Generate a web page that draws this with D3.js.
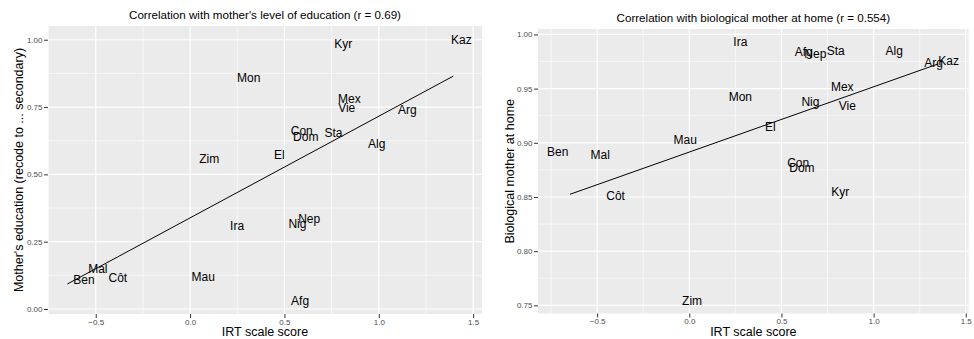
<!DOCTYPE html>
<html>
<head>
<meta charset="utf-8">
<script src="https://cdn.jsdelivr.net/npm/d3@7"></script>
<style>
  body { margin: 0; background: #ffffff; }
  svg text { font-family: "Liberation Sans", Arial, sans-serif; }
</style>
</head>
<body>
<div id="chart"></div>
<script>
// country labels (shortened names, same order in both panels)
var countries = ["Afg", "Alg", "Arg", "Ben", "Con", "Côt", "Dom", "El", "Ira", "Kaz",
                 "Kyr", "Mal", "Mau", "Mex", "Mon", "Nep", "Nig", "Sta", "Vie", "Zim"];

// left panel: IRT score vs mother's education
var eduScore = [0.583, 0.989, 1.152, -0.562, 0.592, -0.383, 0.613, 0.473, 0.249, 1.438,
                0.812, -0.489, 0.070, 0.844, 0.311, 0.631, 0.569, 0.760, 0.830, 0.101];
var eduValue = [0.030, 0.615, 0.739, 0.107, 0.661, 0.116, 0.640, 0.571, 0.309, 0.999,
                0.986, 0.150, 0.120, 0.782, 0.857, 0.334, 0.318, 0.655, 0.749, 0.558];
var eduFitX = [-0.650, 1.395];
var eduFitY = [0.093, 0.865];

// right panel: IRT score vs biological mother at home
var homeScore = [0.621, 1.112, 1.326, -0.714, 0.591, -0.400, 0.611, 0.440, 0.277, 1.407,
                 0.819, -0.483, -0.022, 0.830, 0.277, 0.684, 0.657, 0.794, 0.857, 0.015];
var homeValue = [0.984, 0.985, 0.9737, 0.892, 0.8816, 0.851, 0.8765, 0.9152, 0.993, 0.9758,
                 0.8549, 0.889, 0.903, 0.9516, 0.9429, 0.982, 0.9377, 0.985, 0.9337, 0.7544];
var homeFitX = [-0.647, 1.351];
var homeFitY = [0.8525, 0.9728];

// axes
var xTicks = [-0.5, 0, 0.5, 1, 1.5];
var xTickLabels = ["\u22120.5", "0.0", "0.5", "1.0", "1.5"];
var eduYTicks = [0, 0.25, 0.5, 0.75, 1];
var eduYTickLabels = ["0.00", "0.25", "0.50", "0.75", "1.00"];
var homeYTicks = [0.75, 0.8, 0.85, 0.9, 0.95, 1];
var homeYTickLabels = ["0.75", "0.80", "0.85", "0.90", "0.95", "1.00"];

var eduXDomain = [-0.753, 1.547], eduYDomain = [-0.0186, 1.051];
var homeXDomain = [-0.821, 1.516], homeYDomain = [0.7425, 1.005];

var svg = d3.select("#chart")
    .append("svg")
    .attr("width", 974)
    .attr("height", 339);

function minorOf(ticks, domain) {
  var step = ticks[1] - ticks[0];
  var out = [];
  for (var i = -1; i < ticks.length; i++) {
    var v = ticks[0] + step * (i + 0.5);
    if (v >= domain[0] && v <= domain[1]) out.push(v);
  }
  return out;
}

function drawPanel(cfg) {
  var x = d3.scaleLinear().domain(cfg.xDomain).range([cfg.left, cfg.right]);
  var y = d3.scaleLinear().domain(cfg.yDomain).range([cfg.bottom, cfg.top]);

  var g = svg.append("g");

  g.append("rect")
    .attr("x", cfg.left).attr("y", cfg.top)
    .attr("width", cfg.right - cfg.left)
    .attr("height", cfg.bottom - cfg.top)
    .style("fill", "#ebebeb");

  // minor grid
  g.selectAll(".minx").data(minorOf(cfg.xTicks, cfg.xDomain)).enter()
    .append("line")
    .attr("x1", function(d) { return x(d); }).attr("x2", function(d) { return x(d); })
    .attr("y1", cfg.top).attr("y2", cfg.bottom)
    .style("stroke", "#fff").style("stroke-width", 0.6);
  g.selectAll(".miny").data(minorOf(cfg.yTicks, cfg.yDomain)).enter()
    .append("line")
    .attr("y1", function(d) { return y(d); }).attr("y2", function(d) { return y(d); })
    .attr("x1", cfg.left).attr("x2", cfg.right)
    .style("stroke", "#fff").style("stroke-width", 0.6);

  // major grid
  g.selectAll(".majx").data(cfg.xTicks).enter()
    .append("line")
    .attr("x1", function(d) { return x(d); }).attr("x2", function(d) { return x(d); })
    .attr("y1", cfg.top).attr("y2", cfg.bottom)
    .style("stroke", "#fff").style("stroke-width", 1.2);
  g.selectAll(".majy").data(cfg.yTicks).enter()
    .append("line")
    .attr("y1", function(d) { return y(d); }).attr("y2", function(d) { return y(d); })
    .attr("x1", cfg.left).attr("x2", cfg.right)
    .style("stroke", "#fff").style("stroke-width", 1.2);

  // regression line
  var fit = cfg.fitX.map(function(v, i) { return [v, cfg.fitY[i]]; });
  g.append("path")
    .datum(fit)
    .attr("d", d3.line().x(function(d) { return x(d[0]); }).y(function(d) { return y(d[1]); }))
    .style("fill", "none")
    .style("stroke", "#000")
    .style("stroke-width", 1);

  // country labels
  var pts = countries.map(function(c, i) { return { name: c, sx: cfg.xs[i], sy: cfg.ys[i] }; });
  g.selectAll(".lab").data(pts).enter()
    .append("text")
    .attr("x", function(d) { return x(d.sx); })
    .attr("y", function(d) { return y(d.sy); })
    .attr("dy", "0.35em")
    .style("text-anchor", "middle")
    .style("font-size", "12px")
    .style("fill", "#000")
    .text(function(d) { return d.name; });

  // axes
  var xAxis = d3.axisBottom(x).tickValues(cfg.xTicks)
    .tickFormat(function(d, i) { return cfg.xTickLabels[i]; })
    .tickSize(4).tickPadding(1);
  var ax = g.append("g").attr("transform", "translate(0," + cfg.bottom + ")").call(xAxis);
  var yAxis = d3.axisLeft(y).tickValues(cfg.yTicks)
    .tickFormat(function(d, i) { return cfg.yTickLabels[i]; })
    .tickSize(4).tickPadding(1.5);
  var ay = g.append("g").attr("transform", "translate(" + cfg.left + ",0)").call(yAxis);

  [ax, ay].forEach(function(a) {
    a.select(".domain").remove();
    a.selectAll(".tick line").style("stroke", "#333").style("stroke-width", 1);
    a.selectAll(".tick text").style("fill", "#4d4d4d").style("font-size", "8px")
      .style("font-family", "'Liberation Sans', Arial, sans-serif");
  });

  // titles
  g.append("text")
    .attr("x", (cfg.left + cfg.right) / 2)
    .attr("y", cfg.titleY)
    .style("text-anchor", "middle")
    .style("font-size", "11.6px")
    .style("fill", "#000")
    .text(cfg.title);

  g.append("text")
    .attr("x", (cfg.left + cfg.right) / 2)
    .attr("y", 336)
    .style("text-anchor", "middle")
    .style("font-size", "12.5px")
    .style("fill", "#000")
    .text("IRT scale score");

  g.append("text")
    .attr("transform", "translate(" + cfg.yTitleX + "," + ((cfg.top + cfg.bottom) / 2) + ") rotate(-90)")
    .style("text-anchor", "middle")
    .style("font-size", "12.5px")
    .style("fill", "#000")
    .text(cfg.yTitle);
}

drawPanel({
  left: 48, right: 482, top: 26, bottom: 314,
  xDomain: eduXDomain, yDomain: eduYDomain,
  xTicks: xTicks, xTickLabels: xTickLabels,
  yTicks: eduYTicks, yTickLabels: eduYTickLabels,
  xs: eduScore, ys: eduValue, fitX: eduFitX, fitY: eduFitY,
  title: "Correlation with mother's level of education (r = 0.69)", titleY: 18.5,
  yTitle: "Mother's education (recode to ... secondary)", yTitleX: 22.5
});

drawPanel({
  left: 538, right: 968.7, top: 29, bottom: 313.5,
  xDomain: homeXDomain, yDomain: homeYDomain,
  xTicks: xTicks, xTickLabels: xTickLabels,
  yTicks: homeYTicks, yTickLabels: homeYTickLabels,
  xs: homeScore, ys: homeValue, fitX: homeFitX, fitY: homeFitY,
  title: "Correlation with biological mother at home (r = 0.554)", titleY: 21.5,
  yTitle: "Biological mother at home", yTitleX: 513.5
});
</script>
</body>
</html>
